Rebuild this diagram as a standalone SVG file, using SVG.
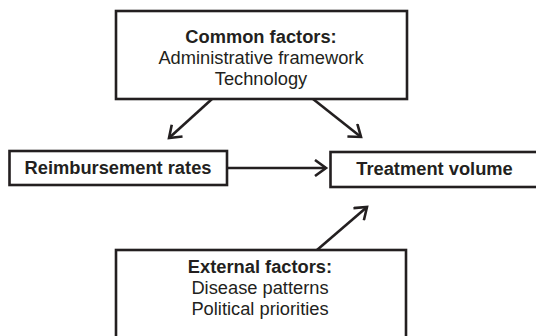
<svg xmlns="http://www.w3.org/2000/svg" width="536" height="336" viewBox="0 0 536 336">
<style>
.box{fill:#fff;stroke:#231f20;stroke-width:2.6}
.edge{fill:none;stroke:#231f20;stroke-width:2.6}
text{font-family:"Liberation Sans",Arial,sans-serif;font-size:18.3px;fill:#231f20;text-anchor:middle}
.b{font-weight:bold}
</style>
<defs>
<marker id="ah" markerUnits="userSpaceOnUse" markerWidth="18" markerHeight="18" viewBox="0 0 18 18" refX="14" refY="9" orient="auto">
<path d="M3,1 L14,9 L3,17" fill="none" stroke="#231f20" stroke-width="2.6"/>
</marker>
</defs>
<rect width="536" height="336" fill="#fff"/>
<g id="edges">
<line class="edge" x1="212" y1="99" x2="169" y2="138" marker-end="url(#ah)"/>
<line class="edge" x1="313" y1="99" x2="361" y2="137" marker-end="url(#ah)"/>
<line class="edge" x1="227" y1="168" x2="326" y2="168" marker-end="url(#ah)"/>
<line class="edge" x1="317" y1="250" x2="367" y2="207" marker-end="url(#ah)"/>
</g>
<g id="common">
<rect class="box" x="116" y="11" width="291" height="88"/>
<text x="261" y="42.5" class="b">Common factors:</text>
<text x="261" y="64">Administrative framework</text>
<text x="261" y="85">Technology</text>
</g>
<g id="reimbursement">
<rect class="box" x="9.5" y="151" width="217.5" height="34"/>
<text x="118" y="174" class="b">Reimbursement rates</text>
</g>
<g id="treatment">
<rect class="box" x="330.5" y="152" width="210" height="35"/>
<text x="434.5" y="175" class="b">Treatment volume</text>
</g>
<g id="external">
<rect class="box" x="116" y="250" width="290" height="95"/>
<text x="260" y="272.5" class="b">External factors:</text>
<text x="260" y="293.5">Disease patterns</text>
<text x="260" y="314.5">Political priorities</text>
</g>
</svg>
